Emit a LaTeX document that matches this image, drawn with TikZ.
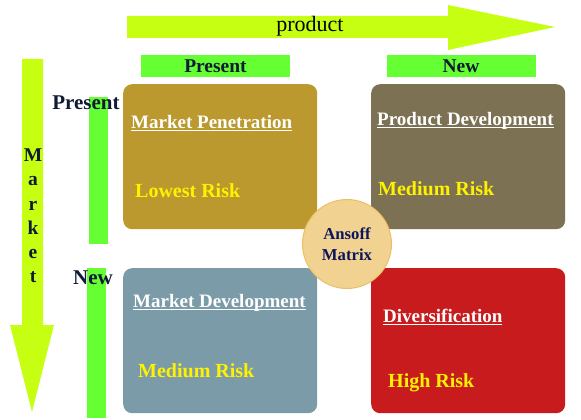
\documentclass[tikz,border=0pt]{standalone}
\usepackage{fontspec}
\setmainfont{Liberation Serif}
\newcommand{\quln}[1]{\setbox0\hbox{#1}\rlap{\rule[-3pt]{\wd0}{1.4pt}}\box0}
\definecolor{arrowlime}{HTML}{C6FF12}
\definecolor{bargreen}{HTML}{66FF33}
\definecolor{penegold}{HTML}{BC992F}
\definecolor{devolive}{HTML}{7C7152}
\definecolor{mktblue}{HTML}{7B9BA9}
\definecolor{divred}{HTML}{C71B1E}
\definecolor{ansofftan}{HTML}{F2D291}
\definecolor{ansoffedge}{HTML}{EBC062}
\definecolor{labelnavy}{HTML}{0E1B34}
\definecolor{riskyellow}{HTML}{FFF200}

\begin{document}
\begin{tikzpicture}[
  x=1pt,y=-1pt,
  quad/.style={rounded corners=9pt,minimum width=194pt,minimum height=145pt,
               anchor=north west,inner sep=0pt},
  hdrbar/.style={fill=bargreen,minimum width=149pt,minimum height=22pt,
                 inner sep=0pt,text=labelnavy,font=\fontsize{19.5}{20}\bfseries},
  sidebar/.style={fill=bargreen,minimum width=19pt,inner sep=0pt,anchor=north west},
  rowlabel/.style={anchor=base,inner sep=0pt,text=labelnavy,
                   font=\fontsize{21}{22}\bfseries},
  quadtitle/.style={anchor=base west,inner sep=0pt,text=white,
                    font=\fontsize{19}{20}\bfseries},
  risk/.style={anchor=base west,inner sep=0pt,text=riskyellow,
               font=\fontsize{20}{21}\bfseries}
]
\useasboundingbox (0,0) rectangle (581,420);

% axis arrows
\coordinate (prodtip) at (555,27);
\fill[arrowlime] (127,16) -- (448,16) -- (448,5) -- (prodtip) -- (448,50)
  -- (448,38) -- (127,38) -- cycle;
\node[inner sep=0pt,anchor=base,font=\fontsize{22}{24}\selectfont] (prodlabel)
  at (310,32) {product};
\coordinate (mkttip) at (32,412);
\fill[arrowlime] (22,59) -- (43,59) -- (43,325) -- (54,325) -- (mkttip)
  -- (10,325) -- (22,325) -- cycle;
\node[inner sep=0pt,align=center,text=labelnavy,
      font=\fontsize{19.5}{24.2}\bfseries] (mktlabel) at (33,216) {M\\a\\r\\k\\e\\t};

% column and row headers
\node[hdrbar] (colpres) at (215.5,66) {Present};
\node[hdrbar] (colnew) at (461,66) {New};
\node[sidebar,minimum height=147pt] (rowpresbar) at (89,97) {};
\node[sidebar,minimum height=150pt] (rownewbar) at (87,268) {};
\node[rowlabel] (rowpres) at (86,109) {Present};
\node[rowlabel] (rownew) at (93,284) {New};

% quadrants
\node[quad,fill=penegold] (pene) at (123,84) {};
\node[quad,fill=devolive] (proddev) at (371,84) {};
\node[quad,fill=mktblue] (mktdev) at (123,268) {};
\node[quad,fill=divred] (divers) at (371,268) {};

\node[quadtitle] (penetitle) at (131,128) {\quln{Market Penetration}};
\node[risk] (penerisk) at (135,197) {Lowest Risk};
\node[quadtitle] (proddevtitle) at (377,125) {\quln{Product Development}};
\node[risk] (proddevrisk) at (378,195) {Medium Risk};
\node[quadtitle] (mktdevtitle) at (133,307) {\quln{Market Development}};
\node[risk] (mktdevrisk) at (138,377) {Medium Risk};
\node[quadtitle] (diverstitle) at (383,322) {\quln{Diversification}};
\node[risk] (diversrisk) at (388,387) {High Risk};

% centre badge
\node[circle,fill=ansofftan,draw=ansoffedge,line width=1pt,minimum size=89pt,
      inner sep=0pt,align=center,text=labelnavy!80!blue,
      font=\fontsize{16.7}{21}\bfseries] (ansoff) at (347,244) {Ansoff\\Matrix};
\end{tikzpicture}
\end{document}
